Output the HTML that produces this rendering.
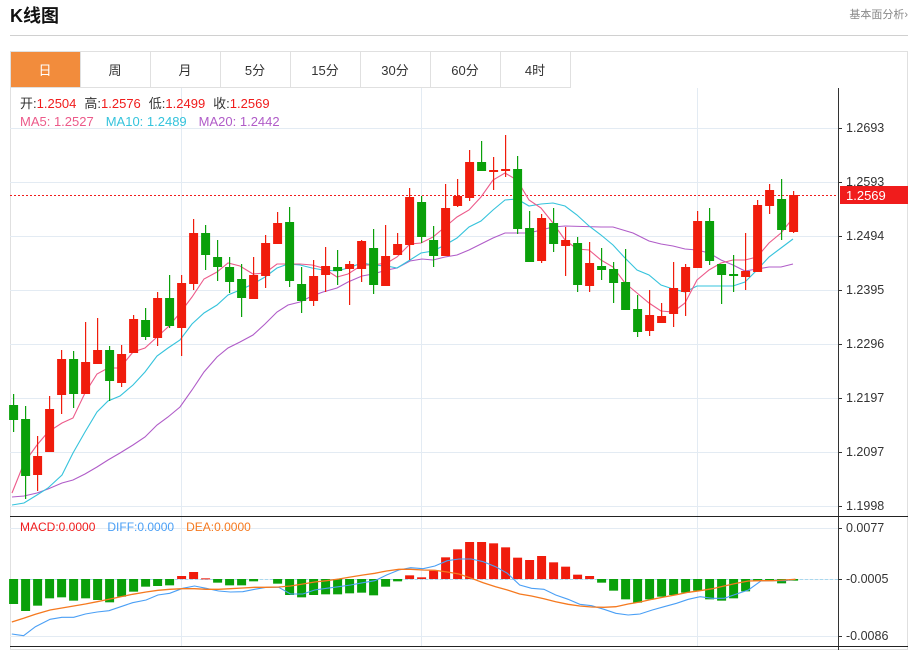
<!DOCTYPE html>
<html><head><meta charset="utf-8"><style>
body{margin:0;background:#fff;font-family:"Liberation Sans","Noto Sans CJK SC",sans-serif;}
#wrap{position:relative;width:919px;height:650px;overflow:hidden;}
</style></head><body><div id="wrap">
<svg id="s" width="919" height="650" xmlns="http://www.w3.org/2000/svg" font-family="Liberation Sans, Noto Sans CJK SC, sans-serif">
<text x="10" y="22" font-size="18" font-weight="bold" fill="#111">K线图</text>
<text x="908" y="18" font-size="11" fill="#888" text-anchor="end">基本面分析›</text>
<line x1="10" y1="35.5" x2="908" y2="35.5" stroke="#d0d0d0"/>
<rect x="10.5" y="51.5" width="897" height="598" fill="none" stroke="#e0e0e0"/>
<line x1="10" y1="87.5" x2="571" y2="87.5" stroke="#e0e0e0"/>
<rect x="11" y="52" width="69" height="35" fill="#f28c3c"/>
<g id="tabs" font-size="13" text-anchor="middle" fill="#333"></g>
<g id="grid"></g>
<g id="ma"></g>
<g id="candles"></g>
<g id="macd"></g>
<text x="20" y="108" font-size="13" fill="#333">开:<tspan fill="#f01c1c">1.2504</tspan><tspan dx="8">高:</tspan><tspan fill="#f01c1c">1.2576</tspan><tspan dx="8">低:</tspan><tspan fill="#f01c1c">1.2499</tspan><tspan dx="8">收:</tspan><tspan fill="#f01c1c">1.2569</tspan></text>
<text x="20" y="126" font-size="13"><tspan fill="#ec5a8a">MA5: 1.2527</tspan><tspan dx="12" fill="#35c3dc">MA10: 1.2489</tspan><tspan dx="12" fill="#b05cc8">MA20: 1.2442</tspan></text>
<text x="20" y="531" font-size="12"><tspan fill="#f01c1c">MACD:0.0000</tspan><tspan dx="12" fill="#4a9ff5">DIFF:0.0000</tspan><tspan dx="12" fill="#f5791f">DEA:0.0000</tspan></text>
</svg></div>
<script>
const NS="http://www.w3.org/2000/svg";
function el(p,t,a,txt){const e=document.createElementNS(NS,t);for(const k in a)e.setAttribute(k,a[k]);if(txt!==undefined)e.textContent=txt;document.getElementById(p).appendChild(e);return e;}
const tabs=["日","周","月","5分","15分","30分","60分","4时"];
tabs.forEach((t,i)=>{const x=10+i*70;if(i>0)el("tabs","line",{x1:x+0.5,y1:52,x2:x+0.5,y2:87,stroke:"#e0e0e0"});el("tabs","text",{x:x+35,y:75,fill:i==0?"#fff":"#333"},t);});
el("tabs","line",{x1:570.5,y1:52,x2:570.5,y2:87,stroke:"#e0e0e0"});
const ticks=["1.2693","1.2593","1.2494","1.2395","1.2296","1.2197","1.2097","1.1998"];
ticks.forEach((t,i)=>{const y=128+i*54;el("grid","line",{x1:10,y1:y+0.5,x2:838,y2:y+0.5,stroke:"#e3ebf3"});el("grid","line",{x1:838,y1:y+0.5,x2:842,y2:y+0.5,stroke:"#333"});el("grid","text",{x:846,y:y+4,"font-size":12.5,fill:"#333"},t);});
[181,421,697].forEach(x=>el("grid","line",{x1:x+0.5,y1:88,x2:x+0.5,y2:646,stroke:"#e3ebf3"}));
el("grid","line",{x1:838.5,y1:88,x2:838.5,y2:650,stroke:"#333"});
el("grid","line",{x1:10,y1:516.5,x2:908,y2:516.5,stroke:"#222"});
el("grid","line",{x1:10,y1:646.5,x2:908,y2:646.5,stroke:"#222"});
[[528,"0.0077"],[579,"-0.0005"],[636,"-0.0086"]].forEach(([y,t])=>{el("grid","line",{x1:10,y1:y+0.5,x2:838,y2:y+0.5,stroke:"#e3ebf3"});el("grid","line",{x1:838,y1:y+0.5,x2:842,y2:y+0.5,stroke:"#333"});el("grid","text",{x:846,y:y+4,"font-size":12.5,fill:"#333"},t);});
el("grid","line",{x1:10,y1:579.5,x2:838,y2:579.5,stroke:"#a9d8ee","stroke-dasharray":"3,2"});
el("grid","line",{x1:10,y1:195.5,x2:838,y2:195.5,stroke:"#f01c1c","stroke-dasharray":"2,2"});
el("grid","rect",{x:840,y:186,width:68,height:18,fill:"#f01c1c"});
el("grid","text",{x:846,y:200,"font-size":13,fill:"#fff"},"1.2569");
const C=[["g",405,420,394,432],["g",419,476,406,499],["r",456,475,436,491],["r",409,452,396,452],["r",359,395,350,414],["g",359,394,351,408],["r",362,394,322,394],["r",350,364,318,364],["g",350,381,346,401],["r",354,383,345,387],
["r",319,353,315,353],["g",320,337,308,340],["r",298,338,292,346],["g",298,326,275,328],["r",283,328,275,356],["r",233,284,219,290],["g",233,255,225,270],["g",257,267,240,281],["g",267,282,257,293],["g",279,298,264,317],
["r",275,299,257,299],["r",243,276,235,288],["r",223,244,212,244],["g",222,281,207,287],["g",284,301,267,313],["r",276,301,260,306],["r",266,275,247,292],["g",267,271,250,285],["r",264,269,261,305],["r",241,269,240,282],
["g",248,285,229,294],["r",256,286,225,286],["r",244,255,233,255],["r",197,245,188,260],["g",202,237,196,243],["g",240,256,226,267],["r",208,256,184,256],["r",196,206,179,207],["r",162,198,150,201],["g",162,171,141,171],
["r",170,172,157,190],["r",169,171,135,177],["g",169,229,156,234],["g",228,262,211,262],["r",218,261,214,263],["g",223,244,208,252],["r",240,246,227,276],["g",243,285,237,292],["r",263,286,242,292],["g",266,270,248,280],
["g",269,283,262,303],["g",282,310,249,310],["g",309,332,295,337],["r",315,331,290,336],["r",316,323,303,323],["r",288,314,262,327],["r",267,292,264,316],["r",221,268,211,268],["g",221,261,208,265],["g",264,275,264,304],
["g",274,276,255,292],["r",271,277,233,290],["r",205,272,200,272],["r",190,206,184,214],["g",199,230,179,240],["r",195,232,191,233]];
const X=i=>13.6+i*12;
C.forEach((c,i)=>{const col=c[0]=="r"?"#f01c0c":"#0aa00a";const x=X(i);
el("candles","line",{x1:x,y1:c[3],x2:x,y2:c[4],stroke:col,"stroke-width":1.2});
el("candles","rect",{x:x-4.5,y:c[1],width:9,height:Math.max(1.5,c[2]-c[1]),fill:col});});
function pl(pts,col,g,w){el(g,"polyline",{points:pts.map(p=>p.join(",")).join(" "),fill:"none",stroke:col,"stroke-width":w||1.1});}
pl([[12,497],[24,496],[37,493],[48,489],[62,483],[73,480],[85,474],[97,467],[108,460],[120,453],[133,445],[145,437],[157,425],[168,417],[180,407],[192,390],[204,372],[217,357],[228,348],[240,342],[253,335],[265,324],[277,312],[288,305],[300,302],[312,296],[323,292],[337,288],[348,282],[362,276],[373,274],[387,270],[397,268],[410,261],[422,259],[433,260],[445,257],[457,255],[469,250],[481,244],[493,238],[505,233],[529,233],[541,230],[553,227],[565,226],[601,227],[613,227],[633,233],[649,241],[661,244],[673,246],[685,249],[697,250],[709,253],[721,260],[733,265],[745,271],[757,269],[769,267],[781,267],[793,264]],"#b05cc8","ma");
pl([[12,505],[24,503],[37,495],[48,488],[62,475],[73,453],[85,432],[97,412],[108,401],[120,396],[133,385],[145,372],[157,356],[168,348],[180,340],[192,324],[204,313],[217,305],[228,295],[240,290],[253,284],[265,277],[277,268],[288,264],[300,265],[312,268],[323,270],[337,271],[348,268],[362,263],[373,265],[387,266],[397,268],[410,260],[421,253],[433,251],[445,245],[457,238],[469,227],[481,221],[493,210],[505,200],[517,199],[529,206],[541,204],[553,203],[565,206],[577,215],[589,226],[601,235],[613,245],[625,258],[637,270],[649,275],[661,285],[673,289],[685,292],[697,286],[709,286],[721,286],[733,286],[745,282],[757,270],[769,257],[781,248],[793,239]],"#35c3dc","ma");
pl([[12,493],[24,463],[37,445],[48,432],[62,423],[73,418],[85,393],[97,374],[108,368],[120,368],[133,352],[145,348],[157,337],[168,327],[180,313],[192,297],[204,279],[217,272],[228,263],[240,266],[253,274],[265,273],[277,264],[288,264],[300,264],[312,265],[323,268],[337,277],[348,274],[362,265],[373,265],[387,263],[397,257],[410,244],[421,243],[433,237],[445,227],[457,217],[469,210],[481,197],[493,180],[505,173],[517,180],[529,200],[541,208],[553,223],[565,240],[577,249],[589,250],[601,260],[613,267],[625,283],[637,293],[649,303],[661,311],[673,312],[685,303],[697,280],[709,270],[721,263],[733,260],[745,260],[757,257],[769,243],[781,233],[793,218]],"#ec5a8a","ma");
const H=[282,303,287,265,262,272,265,270,277,260,245,230,228,226,198,186,205,218,226,226,214,207,221,255,262,255,253,253,250,248,256,230,214,196,202,182,142,118,96,96,100,112,143,150,138,157,170,194,198,218,242,268,278,268,260,255,248,242,268,272,265,244,212,212,220,212];
H.forEach((z,i)=>{const y=510+z/3;const x=X(i);const top=Math.min(y,579),h=Math.abs(y-579);if(h<0.5)return;
el("macd","rect",{x:x-4.5,y:top,width:9,height:Math.max(1,h),fill:y<579?"#f01c0c":"#0aa00a"});});
const cv=a=>a.map(p=>[(p[0]/1.697).toFixed(1),(510+p[1]/3).toFixed(1)]);
pl(cv([[20,372],[40,377],[60,350],[85,328],[105,322],[125,322],[145,312],[165,306],[185,302],[205,290],[225,278],[248,270],[268,255],[288,250],[310,235],[330,228],[350,235],[371,243],[391,246],[412,245],[432,238],[452,232],[473,232],[493,252],[514,252],[534,240],[554,235],[575,230],[595,225],[616,218],[636,212],[656,195],[677,180],[697,173],[718,176],[738,168],[759,152],[779,147],[800,147],[820,155],[841,170],[861,190],[882,225],[902,235],[923,238],[943,255],[964,268],[984,283],[1004,287],[1025,298],[1045,310],[1066,315],[1086,312],[1107,300],[1127,290],[1148,280],[1168,268],[1188,260],[1209,265],[1229,265],[1250,252],[1270,240],[1291,213],[1311,212],[1332,212],[1350,208]]),"#4a9ff5","macd");
pl(cv([[20,336],[40,325],[60,313],[85,300],[105,294],[125,288],[145,282],[165,275],[185,268],[205,260],[225,253],[248,246],[268,241],[288,238],[310,236],[330,236],[350,238],[371,238],[391,236],[412,234],[432,232],[452,232],[473,231],[493,228],[514,222],[534,216],[554,212],[575,207],[595,201],[616,195],[636,190],[656,183],[677,178],[697,178],[718,180],[738,181],[759,186],[779,192],[800,205],[820,218],[841,230],[861,240],[882,252],[902,258],[923,266],[943,275],[964,283],[984,288],[1004,291],[1025,292],[1045,290],[1066,282],[1086,276],[1107,268],[1127,261],[1148,254],[1168,247],[1188,242],[1209,236],[1229,228],[1250,220],[1270,213],[1291,212],[1311,212],[1332,210],[1350,208]]),"#f5791f","macd",1.3);
</script></body></html>
